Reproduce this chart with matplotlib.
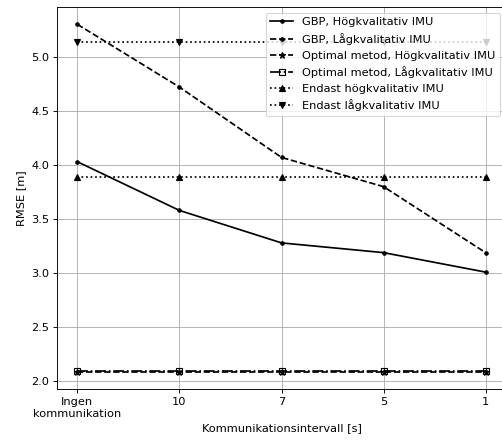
import numpy as np
import matplotlib
matplotlib.use("Agg")
import matplotlib.pyplot as plt

intervals = ["Ingen\nkommunikation", "10", "7", "5", "1"]
gbp_hog = [4.03, 3.58, 3.28, 3.19, 3.01]
gbp_lag = [5.30, 4.72, 4.07, 3.80, 3.19]
opt_hog = [2.09, 2.09, 2.09, 2.09, 2.09]
opt_lag = [2.10, 2.10, 2.10, 2.10, 2.10]
endast_hog = [3.89, 3.89, 3.89, 3.89, 3.89]
endast_lag = [5.14, 5.14, 5.14, 5.14, 5.14]

x = np.arange(len(intervals))

DPI = 82
fig = plt.figure(figsize=(502 / DPI, 441 / DPI), dpi=DPI)
ax = fig.add_axes([57 / 502, 52 / 441, 449 / 502, 382 / 441])

ax.plot(x, gbp_hog, color='k', linestyle='-', marker='.', label='GBP, Högkvalitativ IMU')
ax.plot(x, gbp_lag, color='k', linestyle='--', marker='.', label='GBP, Lågkvalitativ IMU')
ax.plot(x, opt_hog, color='k', linestyle='--', marker='*', label='Optimal metod, Högkvalitativ IMU')
ax.plot(x, opt_lag, color='k', linestyle='-.', marker='s', markerfacecolor='none',
        label='Optimal metod, Lågkvalitativ IMU')
ax.plot(x, endast_hog, color='k', linestyle=':', marker='^', label='Endast högkvalitativ IMU')
ax.plot(x, endast_lag, color='k', linestyle=':', marker='v', label='Endast lågkvalitativ IMU')

ax.set_xticks(x)
ax.set_xticklabels(intervals)
ax.set_xlabel('Kommunikationsintervall [s]')
ax.set_ylabel('RMSE [m]')
ax.grid(True)
ax.legend(loc='upper right')

fig.savefig('out.png', dpi=DPI)
